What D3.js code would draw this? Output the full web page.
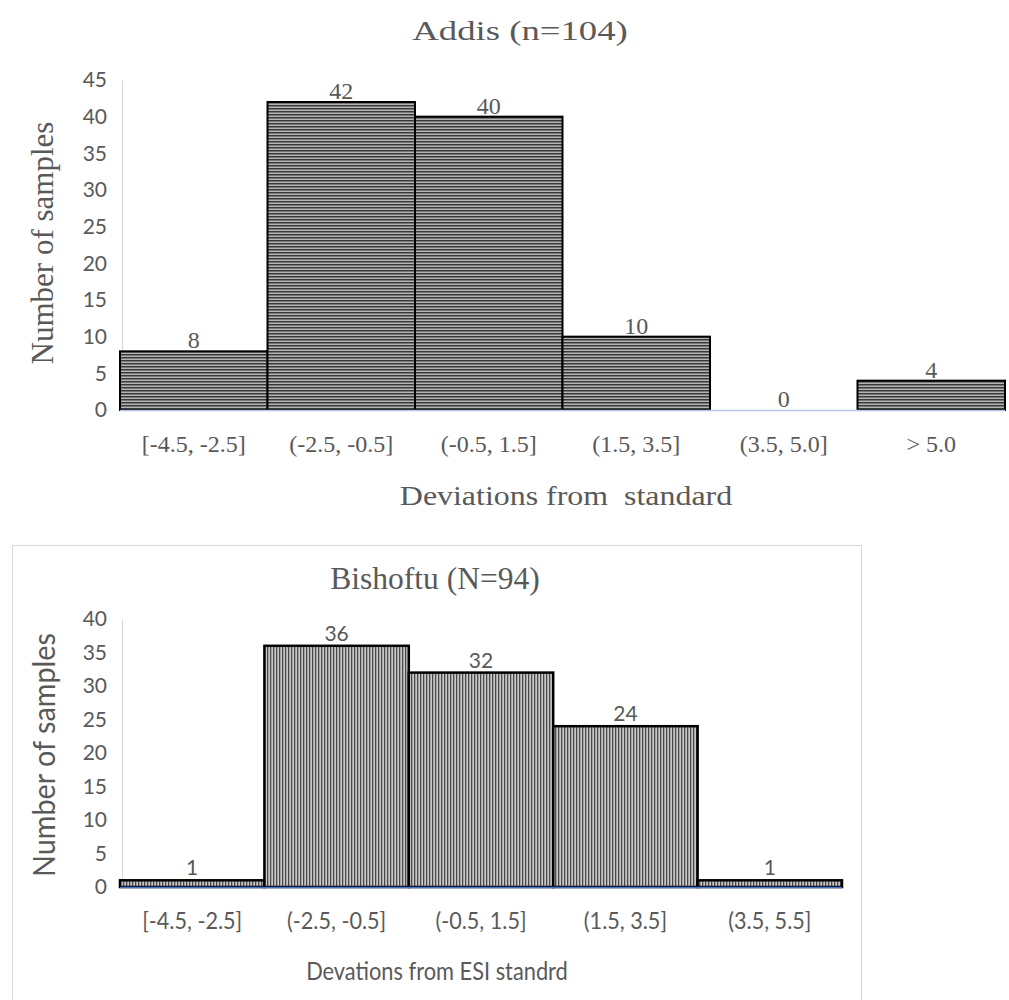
<!DOCTYPE html>
<html>
<head>
<meta charset="utf-8">
<script src="https://cdn.jsdelivr.net/npm/d3@7"></script>
<style>
  body { margin: 0; background: #fff; }
  svg { display: block; }
</style>
</head>
<body>
<svg id="chart" width="1009" height="1000"></svg>
<script>
// === Data ===
const addisBins = ['[-4.5, -2.5]', '(-2.5, -0.5]', '(-0.5, 1.5]', '(1.5, 3.5]', '(3.5, 5.0]', '> 5.0'];
const addisCounts = [8, 42, 40, 10, 0, 4];
const addisTicks = [0, 5, 10, 15, 20, 25, 30, 35, 40, 45];

const bishBins = ['[-4.5, -2.5]', '(-2.5, -0.5]', '(-0.5, 1.5]', '(1.5, 3.5]', '(3.5, 5.5]'];
const bishCounts = [1, 36, 32, 24, 1];
const bishTicks = [0, 5, 10, 15, 20, 25, 30, 35, 40];

const SERIF = '"Liberation Serif", "Times New Roman", serif';
const SANS = 'Lato, "Open Sans", sans-serif';
const TEXT = '#595959';

const svg = d3.select('#chart');
const defs = svg.append('defs');

// Hatch patterns (horizontal for Addis, vertical for Bishoftu)
const hp = defs.append('pattern').attr('id', 'hstripe')
  .attr('patternUnits', 'userSpaceOnUse').attr('width', 6).attr('height', 3);
hp.append('rect').attr('width', 6).attr('height', 3).attr('fill', '#b4b4b4');
hp.append('rect').attr('width', 6).attr('height', 1.5).attr('fill', '#3a3a3a');

const vp = defs.append('pattern').attr('id', 'vstripe')
  .attr('patternUnits', 'userSpaceOnUse').attr('width', 3).attr('height', 6);
vp.append('rect').attr('width', 3).attr('height', 6).attr('fill', '#c8c8c8');
vp.append('rect').attr('width', 1.3).attr('height', 6).attr('fill', '#4a4a4a');

// text placed at (x,y) and stretched sideways by sx
function label(g, x, y, sx, font, size, str, rot) {
  const rotPart = rot ? ` rotate(${rot})` : '';
  return g.append('text')
    .attr('transform', `translate(${x},${y})${rotPart} scale(${sx},1)`)
    .attr('text-anchor', 'middle')
    .attr('fill', TEXT).attr('font-family', font).attr('font-size', size)
    .style('white-space', 'pre')
    .text(str);
}

function drawHistogram(cfg) {
  const x = d3.scaleBand().domain(cfg.bins).range(cfg.xRange).paddingInner(0).paddingOuter(0);
  const y = d3.scaleLinear().domain([0, cfg.ticks[cfg.ticks.length - 1]]).range(cfg.yRange);
  const g = svg.append('g');

  // y axis (labels only + light line)
  const yAxis = g.append('g')
    .attr('transform', `translate(${cfg.axisX},0)`)
    .call(d3.axisLeft(y).tickValues(cfg.ticks).tickSize(0).tickPadding(cfg.tickPad));
  yAxis.select('.domain').attr('stroke', '#d9d9d9').attr('stroke-width', 1.2);
  yAxis.selectAll('text').attr('fill', TEXT).attr('font-family', SANS).attr('font-size', cfg.yTickSize);

  // bars
  const data = cfg.bins.map((b, i) => ({ bin: b, n: cfg.counts[i] }));
  g.selectAll('rect.bar').data(data.filter(d => d.n > 0)).join('rect')
    .attr('class', 'bar')
    .attr('x', d => x(d.bin))
    .attr('y', d => y(d.n))
    .attr('width', x.bandwidth())
    .attr('height', d => y(0) - y(d.n))
    .attr('fill', `url(#${cfg.pattern})`)
    .attr('stroke', '#000')
    .attr('stroke-width', cfg.strokeW);

  // x axis baseline
  g.append('line')
    .attr('x1', cfg.xRange[0]).attr('x2', cfg.xRange[1])
    .attr('y1', y(0) + 0.5).attr('y2', y(0) + 0.5)
    .attr('stroke', cfg.baseColor).attr('stroke-width', 1.5);

  // data labels
  g.selectAll('text.lbl').data(data).join('text')
    .attr('class', 'lbl')
    .attr('x', d => x(d.bin) + x.bandwidth() / 2)
    .attr('y', d => y(d.n) - cfg.labelGap)
    .attr('text-anchor', 'middle')
    .attr('fill', TEXT)
    .attr('font-family', cfg.labelFont)
    .attr('font-size', cfg.labelSize)
    .text(d => d.n);

  // x tick labels
  g.selectAll('text.xt').data(cfg.bins).join('text')
    .attr('class', 'xt')
    .attr('transform', d => `translate(${x(d) + x.bandwidth() / 2},${cfg.xTickY}) scale(${cfg.xTickSx},1)`)
    .attr('text-anchor', 'middle')
    .attr('fill', TEXT)
    .attr('font-family', cfg.xTickFont)
    .attr('font-size', cfg.xTickSize)
    .text(d => d);

  // titles
  label(g, cfg.titleX, cfg.titleY, cfg.titleSx, SERIF, cfg.titleSize, cfg.title);
  label(g, cfg.xTitleX, cfg.xTitleY, cfg.xTitleSx, cfg.xTitleFont, cfg.xTitleSize, cfg.xTitle);
  label(g, cfg.yTitleX, cfg.yTitleY, cfg.yTitleSx, cfg.yTitleFont, cfg.yTitleSize, 'Number of samples', -90);
}

// Bishoftu chart frame
svg.append('rect')
  .attr('x', 12.5).attr('y', 545.5).attr('width', 849).attr('height', 470)
  .attr('fill', 'none').attr('stroke', '#d9d9d9').attr('stroke-width', 1);

drawHistogram({
  bins: addisBins, counts: addisCounts, ticks: addisTicks,
  xRange: [120, 1005], yRange: [410, 80], axisX: 122,
  tickPad: 15, yTickSize: 21, pattern: 'hstripe', strokeW: 2, baseColor: '#b4c7e7',
  labelFont: SERIF, labelSize: 24, labelGap: 3,
  xTickY: 452, xTickFont: SERIF, xTickSize: 24, xTickSx: 1,
  title: 'Addis (n=104)', titleX: 520, titleY: 40, titleSize: 27, titleSx: 1.36,
  xTitle: 'Deviations from  standard', xTitleX: 566, xTitleY: 505, xTitleFont: SERIF, xTitleSize: 28, xTitleSx: 1.14,
  yTitleX: 53, yTitleY: 243, yTitleFont: SERIF, yTitleSize: 31, yTitleSx: 1
});

drawHistogram({
  bins: bishBins, counts: bishCounts, ticks: bishTicks,
  xRange: [120, 842], yRange: [887, 619], axisX: 122,
  tickPad: 15, yTickSize: 21, pattern: 'vstripe', strokeW: 2.5, baseColor: '#4472c4',
  labelFont: SANS, labelSize: 21, labelGap: 5,
  xTickY: 929, xTickFont: SANS, xTickSize: 23, xTickSx: 0.94,
  title: 'Bishoftu (N=94)', titleX: 435, titleY: 589, titleSize: 31.5, titleSx: 1,
  xTitle: 'Devations from ESI standrd', xTitleX: 437, xTitleY: 980, xTitleFont: SANS, xTitleSize: 24.5, xTitleSx: 0.89,
  yTitleX: 55, yTitleY: 755, yTitleFont: SANS, yTitleSize: 30, yTitleSx: 0.96
});
</script>
</body>
</html>
